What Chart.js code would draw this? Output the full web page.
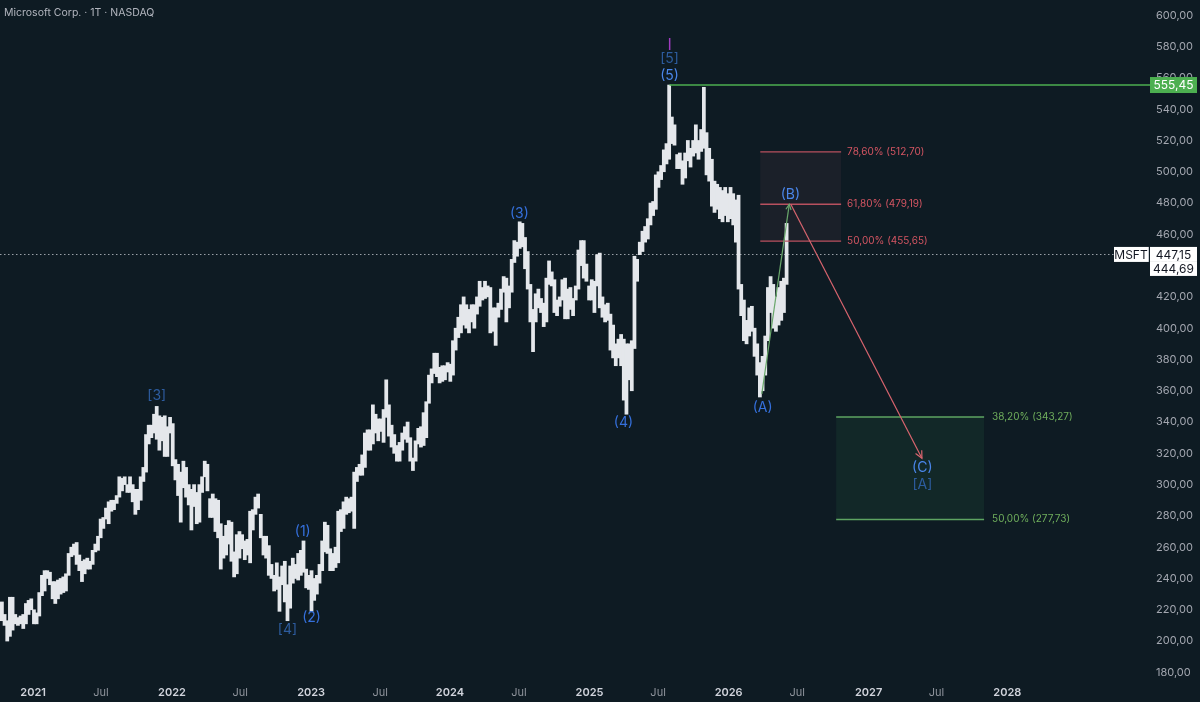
<!DOCTYPE html>
<html>
<head>
<meta charset="utf-8">
<title>Microsoft Corp. · 1T · NASDAQ</title>
<script src="https://cdn.jsdelivr.net/npm/chart.js@4.4.1/dist/chart.umd.min.js"></script>
<style>
  html, body { margin: 0; padding: 0; background: #0e1b23; }
  #wrap { position: relative; width: 1200px; height: 702px; }
  #title { position: absolute; left: 4px; top: 6px; font: 10.5px Inter, sans-serif; color: #b2b5be; }
</style>
</head>
<body>
<div id="wrap">
  <canvas id="chart" width="1200" height="702"></canvas>
  <div id="title">Microsoft Corp. · 1T · NASDAQ</div>
</div>
<script>
'use strict';

// ─── Data (weekly low / high) ────────────────────────────────────────────────

const start2020 = '2020-10-12';
const lows2020  = [213, 210, 200, 203, 207, 211, 210, 211, 208, 211, 217, 220];
const highs2020 = [225, 217, 213, 228, 228, 217, 215, 216, 217, 224, 226, 227];

const start2021 = '2021-01-04';
const lows2021  = [211, 211, 216, 229, 232, 240, 236, 227, 224, 227, 230, 231, 232, 242, 254, 255, 249,
                   245, 238, 243, 246, 246, 249, 257, 258, 266, 272, 278, 275, 283, 284, 288, 292, 296, 300,
                   295, 295, 289, 281, 284, 290, 302, 308, 326, 330, 333, 329, 322, 328, 318, 318, 333];
const highs2021 = [220, 218, 231, 242, 245, 245, 244, 238, 238, 239, 240, 241, 243, 256, 260, 262, 263,
                   255, 251, 252, 253, 251, 258, 262, 267, 278, 279, 285, 289, 290, 290, 293, 305, 304, 305,
                   300, 305, 300, 297, 297, 305, 311, 332, 338, 338, 345, 350, 344, 343, 344, 337, 343];

const start2022 = '2022-01-03';
const lows2022  = [312, 303, 293, 276, 298, 292, 287, 271, 286, 275, 276, 295, 305, 296, 279, 279, 270,
                   266, 246, 253, 255, 262, 251, 241, 243, 253, 259, 252, 255, 250, 271, 281, 285, 266, 255,
                   253, 242, 240, 232, 233, 219, 236, 225, 213, 221, 237, 240, 239, 242, 244, 234, 233];
const highs2022 = [339, 316, 313, 308, 315, 311, 300, 297, 300, 295, 300, 305, 315, 313, 291, 294, 291,
                   290, 275, 267, 274, 277, 276, 257, 268, 270, 268, 264, 265, 283, 284, 292, 294, 281, 267,
                   267, 261, 249, 242, 250, 241, 248, 251, 236, 248, 253, 249, 256, 258, 264, 246, 242];

const start2023 = '2023-01-02';
const lows2023  = [219, 226, 230, 237, 245, 257, 256, 245, 245, 247, 250, 270, 272, 281, 282, 283, 272,
                   302, 306, 306, 311, 322, 322, 326, 333, 328, 334, 327, 343, 331, 324, 320, 315, 315, 322,
                   329, 327, 315, 309, 315, 326, 324, 325, 330, 352, 365, 371, 369, 365, 366, 367, 372];
const highs2023 = [245, 240, 242, 249, 264, 276, 274, 259, 256, 260, 283, 284, 289, 292, 291, 292, 308,
                   311, 313, 319, 333, 335, 335, 351, 345, 342, 342, 348, 367, 351, 338, 332, 325, 327, 333,
                   337, 340, 330, 317, 328, 336, 337, 346, 353, 370, 374, 384, 384, 375, 376, 376, 378];

const start2024 = '2024-01-01';
const lows2024  = [366, 370, 386, 394, 397, 402, 400, 397, 404, 400, 409, 414, 418, 419, 420, 397, 398, 389,
                   407, 412, 423, 404, 413, 423, 442, 446, 451, 452, 438, 425, 404, 385, 404, 413, 410,
                   401, 404, 428, 427, 410, 408, 414, 418, 406, 406, 412, 408, 418, 425, 440, 432, 430, 418];
const highs2024 = [377, 392, 400, 407, 415, 420, 415, 412, 415, 415, 420, 430, 426, 430, 427, 426, 413, 413,
                   416, 425, 433, 432, 427, 444, 456, 455, 468, 467, 458, 449, 428, 412, 422, 425, 419,
                   416, 432, 443, 436, 431, 418, 420, 431, 432, 425, 426, 419, 427, 450, 456, 456, 441, 427];

const start2025 = '2025-01-06';
const lows2025  = [418, 410, 427, 413, 407, 404, 405, 386, 381, 376, 381, 376, 354, 345, 367, 360, 387,
                   430, 447, 449, 455, 457, 466, 472, 476, 490, 495, 500, 505, 508, 518, 517, 502, 502,
                   492, 496, 507, 503, 510, 512, 508, 513, 515, 498, 494, 478, 474, 476, 470, 468, 472, 468];
const highs2025 = [431, 430, 447, 448, 420, 415, 416, 409, 402, 390, 393, 396, 393, 390, 390, 392, 446,
                   444, 455, 462, 465, 470, 480, 481, 498, 500, 504, 514, 518, 555.45, 535, 530, 511, 512,
                   507, 512, 520, 515, 520, 530, 520, 527, 554, 525, 515, 508, 494, 492, 490, 488, 490, 486];

const start2026 = '2026-01-05';
const lows2026  = [470, 466, 455, 425, 408, 392, 390, 395, 398, 382, 370, 356, 360, 370, 392, 410, 400,
                   398, 402, 405, 410, 428];
const highs2026 = [490, 486, 482, 485, 428, 418, 405, 413, 414, 400, 390, 378, 382, 395, 426, 433, 428,
                   420, 426, 430, 432, 467];

// ─── Axis ticks ───────────────────────────────────────────────────────────────

const xTickDates  = ['2021-01-04', '2021-07-01', '2022-01-03', '2022-07-01', '2023-01-03', '2023-07-03',
                     '2024-01-02', '2024-07-01', '2025-01-02', '2025-07-01', '2026-01-02', '2026-07-01',
                     '2027-01-04', '2027-07-01', '2028-01-03'];
const xTickLabels = ['2021', 'Jul', '2022', 'Jul', '2023', 'Jul', '2024', 'Jul', '2025', 'Jul',
                     '2026', 'Jul', '2027', 'Jul', '2028'];
const yTicks = [180, 200, 220, 240, 260, 280, 300, 320, 340, 360, 380, 400, 420, 440, 460, 480,
                500, 520, 540, 560, 580, 600];

// ─── Annotations ──────────────────────────────────────────────────────────────

const peakDate  = '2025-07-31';
const peakPrice = 555.45;
const lastPrice = 447.15;
const prevPrice = 444.69;

const fibUpperRange  = ['2026-03-26', '2026-10-24'];
const fibUpperLevels = [512.70, 479.19, 455.65];
const fibUpperPcts   = ['78,60%', '61,80%', '50,00%'];

const fibLowerRange  = ['2026-10-11', '2027-11-03'];
const fibLowerLevels = [343.27, 277.73];
const fibLowerPcts   = ['38,20%', '50,00%'];

const pathABDates  = ['2026-03-30', '2026-06-10'];
const pathABPrices = [358, 479.19];
const pathBCDates  = ['2026-06-14', '2027-05-24'];
const pathBCPrices = [479.19, 316.8];

const waveText   = ['[3]', '[4]', '(1)', '(2)', '(3)', '(4)', 'I', '[5]', '(5)', '(A)', '(B)', '(C)', '[A]'];
const waveDates  = ['2021-11-24', '2022-11-02', '2022-12-12', '2023-01-04', '2024-07-02', '2025-04-01',
                    '2025-07-31', '2025-07-31', '2025-07-31', '2026-04-01', '2026-06-13', '2027-05-25', '2027-05-25'];
const wavePrices = [356.6, 207, 269.7, 214.7, 473, 339.4, 581, 572.1, 561.2, 349, 485.1, 310.6, 299.7];

// ─── Helpers ──────────────────────────────────────────────────────────────────

const DAY = 864e5;
const ts = (d) => Date.parse(d + 'T00:00:00Z');
const fmt = (v) => v.toFixed(2).replace('.', ',');
const FONT = 'Inter, "Noto Sans", sans-serif';

function buildBars() {
  const years = [
    [start2020, lows2020, highs2020], [start2021, lows2021, highs2021],
    [start2022, lows2022, highs2022], [start2023, lows2023, highs2023],
    [start2024, lows2024, highs2024], [start2025, lows2025, highs2025],
    [start2026, lows2026, highs2026],
  ];
  const out = [];
  for (const [start, lo, hi] of years) {
    const t0 = ts(start);
    lo.forEach((l, i) => out.push({ x: t0 + (i * 7 + 2) * DAY, y: [l, hi[i]] }));
  }
  return out;
}

function drawArrow(ctx, x1, y1, x2, y2, color, head) {
  ctx.strokeStyle = color;
  ctx.lineWidth = 1.2;
  ctx.beginPath();
  ctx.moveTo(x1, y1);
  ctx.lineTo(x2, y2);
  ctx.stroke();
  const a = Math.atan2(y2 - y1, x2 - x1);
  ctx.beginPath();
  ctx.moveTo(x2 - head * Math.cos(a - 0.45), y2 - head * Math.sin(a - 0.45));
  ctx.lineTo(x2, y2);
  ctx.lineTo(x2 - head * Math.cos(a + 0.45), y2 - head * Math.sin(a + 0.45));
  ctx.stroke();
}

function drawTag(ctx, x, top, w, h, bg, fg, text) {
  ctx.fillStyle = bg;
  ctx.fillRect(x, top, w, h);
  ctx.fillStyle = fg;
  ctx.font = `12px ${FONT}`;
  ctx.textAlign = 'center';
  ctx.textBaseline = 'middle';
  ctx.fillText(text, x + w / 2, top + h / 2 + 0.5);
}

// ─── Overlay plugin ───────────────────────────────────────────────────────────

const overlay = {
  id: 'overlay',
  beforeDraw(chart) {
    const { ctx, width, height } = chart;
    ctx.save();
    ctx.fillStyle = '#0e1b23';
    ctx.fillRect(0, 0, width, height);
    ctx.restore();
  },
  beforeDatasetsDraw(chart) {
    const { ctx, chartArea: a, scales: { x, y } } = chart;
    ctx.save();

    // Fib zones
    const ux1 = x.getPixelForValue(ts(fibUpperRange[0]));
    const ux2 = x.getPixelForValue(ts(fibUpperRange[1]));
    const uTop = y.getPixelForValue(fibUpperLevels[0]);
    const uBot = y.getPixelForValue(fibUpperLevels[2]);
    ctx.fillStyle = 'rgba(150, 80, 95, 0.10)';
    ctx.fillRect(ux1, uTop, ux2 - ux1, uBot - uTop);

    const lx1 = x.getPixelForValue(ts(fibLowerRange[0]));
    const lx2 = x.getPixelForValue(ts(fibLowerRange[1]));
    const lTop = y.getPixelForValue(fibLowerLevels[0]);
    const lBot = y.getPixelForValue(fibLowerLevels[1]);
    ctx.fillStyle = 'rgba(60, 160, 90, 0.10)';
    ctx.fillRect(lx1, lTop, lx2 - lx1, lBot - lTop);

    // Last price dotted line
    const py = Math.round(y.getPixelForValue(lastPrice)) + 0.5;
    ctx.strokeStyle = 'rgba(200, 205, 212, 0.75)';
    ctx.lineWidth = 1;
    ctx.setLineDash([1.5, 2.5]);
    ctx.beginPath();
    ctx.moveTo(a.left, py);
    ctx.lineTo(a.right - 31, py);
    ctx.stroke();
    ctx.restore();
  },
  afterDatasetsDraw(chart) {
    const { ctx, chartArea: a, scales: { x, y } } = chart;
    ctx.save();

    // Peak level line
    const gy = y.getPixelForValue(peakPrice);
    ctx.strokeStyle = '#4caf50';
    ctx.lineWidth = 1.5;
    ctx.beginPath();
    ctx.moveTo(x.getPixelForValue(ts(peakDate)), gy);
    ctx.lineTo(a.right + 5, gy);
    ctx.stroke();

    // Fib lines + labels
    ctx.font = `10px ${FONT}`;
    ctx.textAlign = 'left';
    ctx.textBaseline = 'middle';
    const ux1 = x.getPixelForValue(ts(fibUpperRange[0]));
    const ux2 = x.getPixelForValue(ts(fibUpperRange[1]));
    fibUpperLevels.forEach((lv, i) => {
      const ly = y.getPixelForValue(lv);
      ctx.strokeStyle = '#b9505f';
      ctx.lineWidth = 1.4;
      ctx.beginPath();
      ctx.moveTo(ux1, ly);
      ctx.lineTo(ux2, ly);
      ctx.stroke();
      ctx.fillStyle = '#d45562';
      ctx.fillText(`${fibUpperPcts[i]} (${fmt(lv)})`, ux2 + 6, ly);
    });
    const lx1 = x.getPixelForValue(ts(fibLowerRange[0]));
    const lx2 = x.getPixelForValue(ts(fibLowerRange[1]));
    fibLowerLevels.forEach((lv, i) => {
      const ly = y.getPixelForValue(lv);
      ctx.strokeStyle = '#5ea462';
      ctx.lineWidth = 1.4;
      ctx.beginPath();
      ctx.moveTo(lx1, ly);
      ctx.lineTo(lx2, ly);
      ctx.stroke();
      ctx.fillStyle = '#6fae5c';
      ctx.fillText(`${fibLowerPcts[i]} (${fmt(lv)})`, lx2 + 8, ly);
    });

    // Projected path arrows
    drawArrow(ctx,
      x.getPixelForValue(ts(pathABDates[0])), y.getPixelForValue(pathABPrices[0]),
      x.getPixelForValue(ts(pathABDates[1])), y.getPixelForValue(pathABPrices[1]),
      '#6aa86c', 6);
    drawArrow(ctx,
      x.getPixelForValue(ts(pathBCDates[0])), y.getPixelForValue(pathBCPrices[0]),
      x.getPixelForValue(ts(pathBCDates[1])), y.getPixelForValue(pathBCPrices[1]),
      '#d8646e', 8);

    // Wave labels
    ctx.textAlign = 'center';
    ctx.textBaseline = 'middle';
    waveText.forEach((t, i) => {
      let color = '#3570dc';
      if (t.startsWith('[')) color = '#2d5c9e';
      if (t === 'I') color = '#a03cc0';
      if (t === '(5)' || t === '(B)' || t === '(C)') color = '#4a86ea';
      ctx.font = t === 'I' ? `16px ${FONT}` : `14px ${FONT}`;
      ctx.fillStyle = color;
      ctx.fillText(t, x.getPixelForValue(ts(waveDates[i])), y.getPixelForValue(wavePrices[i]));
    });
    ctx.restore();
  },
  afterDraw(chart) {
    const { ctx, chartArea: a, scales: { y } } = chart;
    ctx.save();
    const gy = y.getPixelForValue(peakPrice);
    drawTag(ctx, a.right + 5, gy - 8, 47, 16, '#4caf50', '#ffffff', fmt(peakPrice));
    const py = y.getPixelForValue(lastPrice);
    drawTag(ctx, a.right - 31, py - 7.5, 34, 15, '#ffffff', '#131722', 'MSFT');
    drawTag(ctx, a.right + 5, py - 7.5, 47, 15, '#ffffff', '#131722', fmt(lastPrice));
    drawTag(ctx, a.right + 5, py + 7.5, 47, 14, '#ffffff', '#131722', fmt(prevPrice));
    ctx.strokeStyle = '#c9ccd2';
    ctx.lineWidth = 1;
    ctx.beginPath();
    ctx.moveTo(a.right + 3.5, py - 7.5);
    ctx.lineTo(a.right + 3.5, py + 7.5);
    ctx.stroke();
    ctx.restore();
  },
};

// ─── Chart ────────────────────────────────────────────────────────────────────

new Chart(document.getElementById('chart'), {
  type: 'bar',
  data: {
    datasets: [{
      label: 'MSFT',
      data: buildBars(),
      backgroundColor: '#e4e7eb',
      borderWidth: 0,
      barThickness: 3.1,
      grouped: false,
    }],
  },
  options: {
    responsive: false,
    animation: false,
    layout: { padding: 0 },
    plugins: { legend: { display: false }, tooltip: { enabled: false } },
    scales: {
      x: {
        type: 'linear',
        min: ts('2020-10-09'),
        max: ts('2028-12-29'),
        offset: false,
        grid: { display: false, drawTicks: false },
        border: { display: false },
        afterBuildTicks: (s) => { s.ticks = xTickDates.map((d) => ({ value: ts(d) })); },
        afterFit: (s) => { s.height = 22; s.paddingLeft = 0; s.paddingRight = 0; },
        ticks: {
          autoSkip: false,
          maxRotation: 0,
          padding: 6,
          callback: (v, i) => xTickLabels[i],
          color: (c) => (c.index % 2 === 0 ? '#d1d4dc' : '#8f949c'),
          font: (c) => ({ family: FONT, size: 11, weight: c.index % 2 === 0 ? '600' : '400' }),
        },
      },
      y: {
        position: 'right',
        min: 175.1,
        max: 609.8,
        grid: { display: false, drawTicks: false },
        border: { display: false },
        afterBuildTicks: (s) => { s.ticks = yTicks.map((v) => ({ value: v })); },
        afterFit: (s) => { s.width = 55; s.paddingTop = 0; s.paddingBottom = 0; },
        ticks: {
          padding: 11,
          callback: (v) => fmt(v),
          color: '#a3a7b0',
          font: { family: FONT, size: 11 },
        },
      },
    },
  },
  plugins: [overlay],
});
</script>
</body>
</html>
